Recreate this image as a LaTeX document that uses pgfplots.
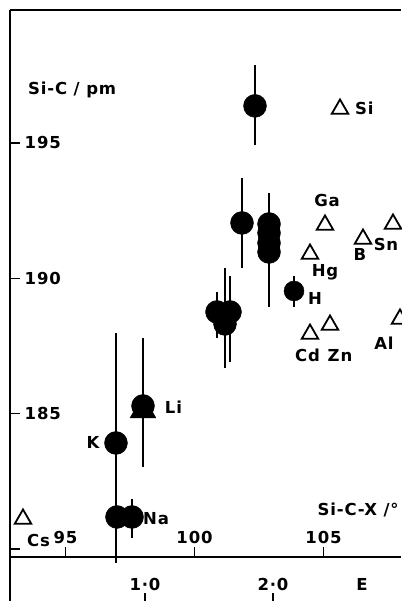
\documentclass[border=0pt]{standalone}
\usepackage{fontspec}
\setmainfont{DejaVu Sans}[LetterSpace=5]
\usepackage{pgfplots}
\usepackage{pgfplotstable}
\pgfplotsset{compat=1.18}

\pgfplotstableread{
x y ep em
102.345 196.370 1.510 1.440
101.841 192.045 1.662 1.663
102.888 192.008 1.145 3.066
102.888 191.675 0 0
102.888 191.306 0 0
102.888 190.973 0 0
100.872 188.757 0.739 0.960
101.376 188.757 1.330 1.847
101.182 188.314 2.068 1.626
96.957 183.918 4.063 4.433
96.996 181.184 0 0
97.578 181.184 0.665 0.776
98.004 185.285 2.511 2.254
}\circles

\pgfplotstableread{
x y ep em
103.857 189.533 0.554 0.591
}\hpoint

\pgfplotstableread{
x y
93.353 181.110
105.640 196.256
105.058 191.971
104.477 190.900
106.531 191.454
107.694 192.008
104.477 187.944
105.252 188.277
107.965 188.498
}\triangles

\newcommand{\lf}{\fontsize{16.5}{20}\selectfont\bfseries}

\begin{document}
\lf
\begin{tikzpicture}[font=\lf]
\begin{axis}[
  name=main,
  at={(10pt,44pt)}, anchor=south west,
  width=391pt, height=547pt, scale only axis,
  xmin=92.849, xmax=108.004,
  ymin=179.706, ymax=199.913,
  axis x line*=bottom, axis y line*=left,
  axis line style={line width=1.4pt},
  tick align=inside,
  major tick length=10pt,
  tick style={line width=1.3pt, black},
  xtick={95,100,105}, xticklabels={95,100,105},
  ytick={180,185,190,195}, yticklabels={,185,190,195},
  tick label style={font=\lf},
  xticklabel style={anchor=south, yshift=8pt},
  yticklabel style={anchor=west, xshift=9pt},
  every node/.append style={font=\lf},
  clip=false,
]
\draw[line width=1.4pt] (rel axis cs:0,1) -- (rel axis cs:1,1);

\addplot[only marks, mark=*, mark size=11.5pt, black,
  error bars/.cd, y dir=both, y explicit, error mark=none,
  error bar style={line width=1.3pt, black}]
  table[x=x, y=y, y error plus=ep, y error minus=em] {\circles};
\addplot[only marks, mark=*, mark size=10pt, black,
  error bars/.cd, y dir=both, y explicit, error mark=none,
  error bar style={line width=1.3pt, black}]
  table[x=x, y=y, y error plus=ep, y error minus=em] {\hpoint};
\addplot[only marks, mark=triangle*, mark size=15pt, black]
  coordinates {(98.004,185.118)};
\addplot[only marks, mark=triangle, mark size=9.5pt, black,
  mark options={line width=1.8pt}]
  table[x=x, y=y] {\triangles};

\node[anchor=west, inner sep=0pt] at (axis cs:93.547,196.958) {Si-C / pm};
\node[anchor=west, inner sep=0pt] at (axis cs:106.221,196.293) {Si};
\node at (axis cs:105.136,192.894) {Ga};
\node at (axis cs:105.058,190.235) {Hg};
\node at (axis cs:106.415,190.863) {B};
\node at (axis cs:107.422,191.232) {Sn};
\node at (axis cs:104.671,189.274) {H};
\node at (axis cs:104.380,187.168) {Cd};
\node at (axis cs:105.640,187.168) {Zn};
\node at (axis cs:107.345,187.612) {Al};
\node at (axis cs:99.186,185.247) {Li};
\node at (axis cs:96.066,183.918) {K};
\node at (axis cs:98.508,181.110) {Na};
\node at (axis cs:93.953,180.334) {Cs};
\node[anchor=east, inner sep=0pt] at (axis cs:107.92,181.443) {Si-C-X /°};
\end{axis}

\begin{axis}[
  name=eaxis,
  at={(10pt,0pt)}, anchor=south west,
  width=391pt, height=44pt, scale only axis,
  xmin=-0.0547, xmax=3.0,
  ymin=0, ymax=1,
  axis x line*=bottom, axis y line*=left,
  axis line style={line width=1.4pt},
  x axis line style={draw=none},
  tick align=inside,
  major tick length=8pt,
  tick style={line width=1.3pt, black},
  xtick={1,2}, xticklabels={1·0,2·0},
  ytick=\empty,
  tick label style={font=\lf},
  xticklabel style={anchor=south, yshift=5pt},
  every node/.append style={font=\lf},
  clip=false,
]
\node at (axis cs:2.695,0.364) {E};
\end{axis}
\pgfresetboundingbox
\useasboundingbox (0,0) rectangle (401pt,601pt);
\end{tikzpicture}
\end{document}
